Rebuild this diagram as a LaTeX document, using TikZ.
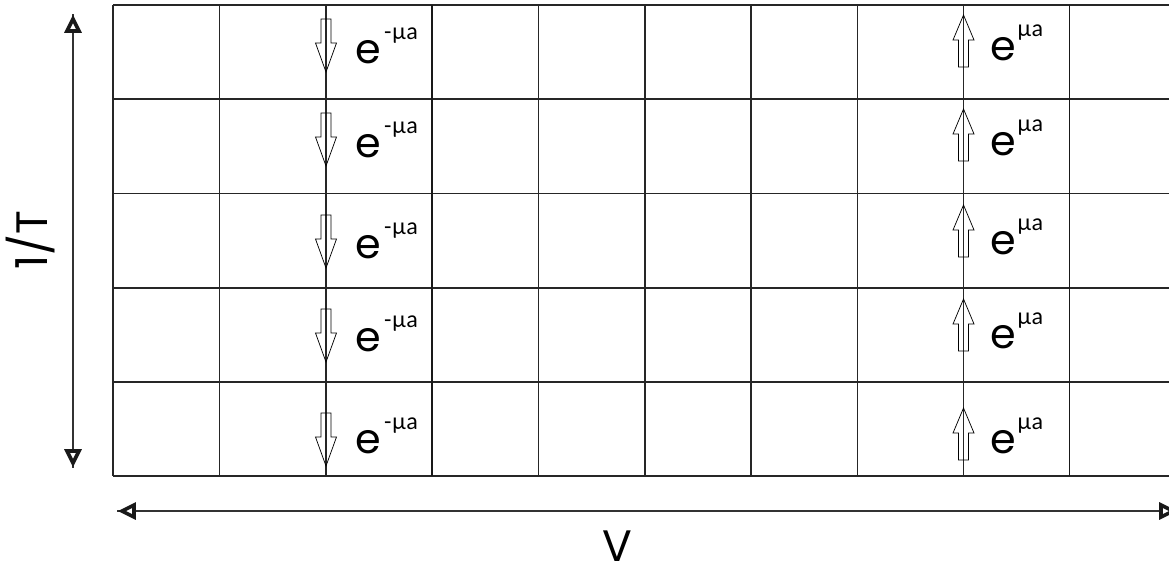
\documentclass[tikz,border=0pt]{standalone}
\usepackage{fontspec}
\setmainfont{Poppins}
\newfontfamily\supfont{Lato}
\tikzset{
  gridline/.style={line width=0.9pt, black!85},
  thickgrid/.style={line width=1.4pt, black!90},
  blk/.style={draw, line width=0.55pt},
  axisline/.style={line width=0.9pt, black!80},
  headst/.style={draw=black!90, fill=white, line width=2.7pt, line join=miter},
  headup/.pic={\path[headst] (0,5) -- (6,17) -- (-6,17) -- cycle;},
  headdown/.pic={\path[headst] (0,-5) -- (6,-17) -- (-6,-17) -- cycle;},
  headleft/.pic={\path[headst] (5,0) -- (17,6) -- (17,-6) -- cycle;},
  headright/.pic={\path[headst] (-5,0) -- (-17,6) -- (-17,-6) -- cycle;},
  downarr/.pic={\draw[blk] (-5,0) -- (5,0) -- (5,24) -- (10.5,24) -- (0,53) -- (-10.5,24) -- (-5,24) -- cycle;},
  uparr/.pic={\draw[blk] (-5,0) -- (5,0) -- (5,-27) -- (10.5,-27) -- (0,-52) -- (-10.5,-27) -- (-5,-27) -- cycle;},
  lab/.style={inner sep=0pt, anchor=base west, font=\fontsize{31pt}{31pt}\selectfont},
  axlab/.style={inner sep=0pt, font=\fontsize{33pt}{33pt}\selectfont}
}
\newcommand{\supdown}{\kern2pt\raisebox{18pt}{\supfont\fontsize{17pt}{17pt}\selectfont -µa}}
\newcommand{\supup}{\kern1pt\raisebox{18pt}{\supfont\fontsize{17pt}{17pt}\selectfont µa}}
\begin{document}
\begin{tikzpicture}[x=0.75pt,y=-0.75pt]
\useasboundingbox (0,0) rectangle (1169,569);
\begin{scope}
\clip (0,0) rectangle (1169,569);
% grid rows
\foreach \yy in {5,99,193.5,288,382,476}
  \draw[gridline] (113,\yy) -- (1180,\yy);
% grid columns
\foreach \xx in {113,219.5,326,538.5,645,751,857.5,963.5}
  \draw[gridline] (\xx,5) -- (\xx,476);
\foreach \xx in {432,1069.5}
  \draw[thickgrid] (\xx,5) -- (\xx,476);
% block arrows
\foreach \t in {19,113,215,309,413}
  \pic at (326,\t) {downarr};
\foreach \b in {67,161,257,351,460}
  \pic at (963.5,\b) {uparr};
% labels
\foreach \bl [count=\i] in {63,157,258,351,453}
  \node[lab] (dn\i) at (355,\bl) {e\supdown};
\foreach \bl [count=\i] in {60,155,254,348,453}
  \node[lab] (up\i) at (990,\bl) {e\supup};
% axes
\coordinate (vt) at (73,14);
\coordinate (vb) at (73,468);
\coordinate (hl) at (117,511);
\coordinate (hr) at (1178,511);
\draw[axisline] (vt) -- (vb);
\draw[axisline] (hl) -- (hr);
\pic at (vt) {headup};
\pic at (vb) {headdown};
\pic at (hl) {headleft};
\pic at (hr) {headright};
\end{scope}
\node[axlab, rotate=90] (tlab) at (31,240) {1/T};
\node[axlab, anchor=base] (vlab) at (617,561) {V};
\end{tikzpicture}
\end{document}
